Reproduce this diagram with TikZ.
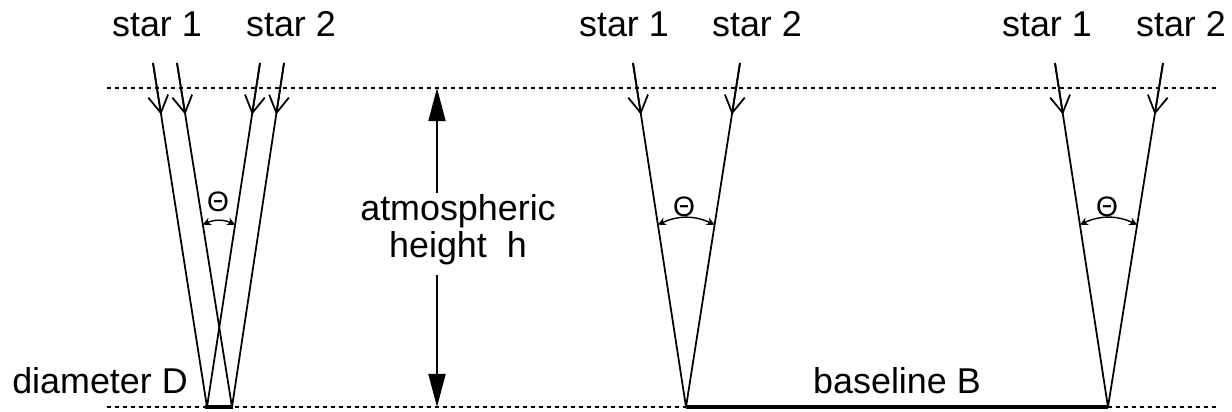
\documentclass[tikz,border=0pt]{standalone}
\usepackage{fontspec}
\setmainfont{Liberation Sans}
\usetikzlibrary{arrows.meta,calc}

\begin{document}
\begin{tikzpicture}[x=0.01cm,y=-0.01cm,font=\fontsize{10.2}{9.5}\selectfont,
ray/.style={line width=0.5pt},barb/.style={-{Straight Barb[length=1.7mm,width=2mm]}},
level/.style={line width=0.45pt,dash pattern=on 0.4mm off 0.4mm},ground/.style={line width=1.3pt},
angmark/.style={line width=0.4pt,{Stealth[length=0.8mm,width=0.8mm]}-{Stealth[length=0.8mm,width=0.8mm]}}]
\useasboundingbox(0,0)rectangle(1232,411);
\coordinate(upl)at(107,88);\coordinate(upr)at(1217,88);\coordinate(lowl)at(107,407);\coordinate(lowr)at(1217,407);
\draw[level](upl)--(upr);\draw[level](lowl)--(lowr);
\foreach\n/\x/\t in{a1/157/1,a2/291/2,b1/624/1,b2/757/2,c1/1047/1,c2/1181/2}{\node[anchor=base](\n)at(\x,36){star \t};}
\foreach\n/\x/\y in{1/153/207,2/177/232,3/260/207,4/284/232,5/633/686,6/740/686,7/1055/1108,8/1163/1108}{\coordinate(t\n)at(\x,63);\coordinate(b\n)at(\y,407);\draw[ray](t\n)--(b\n);\draw[ray,barb](t\n)--($(t\n)!0.15!(b\n)$);}
\draw[ground]($(b1)+(-2,0)$)--($(b2)+(1,0)$);\draw[ground](b5)--(b7);
\foreach\p/\q/\x/\y in{2/3/218/202,5/6/684/207,7/8/1107/207}{\draw[angmark]($(t\p)!0.47!(b\p)$)to[bend left=25]($(t\q)!0.47!(b\q)$);\node(th\p)at(\x,\y){\fontsize{8}{8}\selectfont Θ};}
\coordinate(hu)at(437,193);\coordinate(hd)at(437,275);
\node[align=center](h)at(458,230){atmospheric\\height\ \ h};
\draw[ray,-{Triangle[length=3.3mm,width=1.7mm]}](hu)--(hu|-upl);\draw[ray,-{Triangle[length=3.3mm,width=1.7mm]}](hd)--(hd|-lowl);
\node[anchor=base](d)at(100,393){diameter D};\node[anchor=base](bl)at(897,393){baseline B};
\end{tikzpicture}
\end{document}
